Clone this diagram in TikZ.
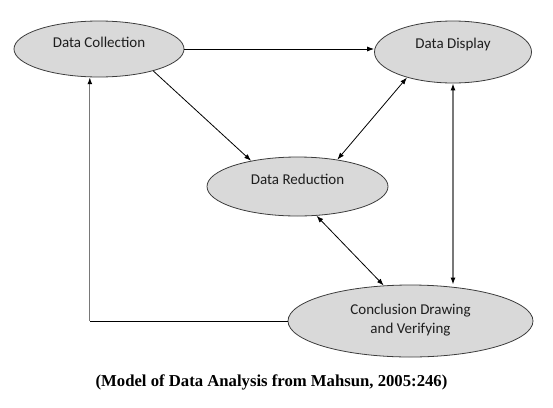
\documentclass[tikz,border=0pt]{standalone}
\usepackage{fontspec}
\setmainfont{Liberation Serif}
\newfontfamily\stagefont{Carlito}
\usetikzlibrary{shapes.geometric, arrows.meta, positioning, calc}
\definecolor{cStageFill}{RGB}{217, 217, 217}
\definecolor{cStageDraw}{RGB}{60, 60, 60}
\definecolor{cLoopLine}{RGB}{120, 120, 120}
\definecolor{cTextColor}{RGB}{30, 30, 30}
\tikzset{
    % ellipse for each analysis stage
    stage/.style={
        ellipse, draw=cStageDraw, fill=cStageFill, line width=0.8pt, inner sep=0pt
    },
    stageText/.style={font=\stagefont\fontsize{15}{19}\selectfont, text=cTextColor, align=center},
    % connectors
    plain/.style={draw=black, line width=0.8pt},
    conn/.style={plain, -{Latex[length=7pt, width=5pt]}},
    biconn/.style={plain, {Latex[length=7pt, width=5pt]}-{Latex[length=7pt, width=5pt]}},
    loopconn/.style={draw=cLoopLine, line width=1.3pt, -{Latex[length=7pt, width=5pt, color=black]}},
    loopbiconn/.style={draw=cLoopLine, line width=1.3pt,
        {Latex[length=7pt, width=5pt, color=black]}-{Latex[length=7pt, width=5pt, color=black]}},
    captionText/.style={font=\bfseries\fontsize{16.7}{20}\selectfont}
}

\begin{document}
\begin{tikzpicture}[x=1pt, y=-1pt]

	\useasboundingbox (0,0) rectangle (553,407);

	% ==========================================
	% stages
	% ==========================================
	\node [stage, minimum width=170pt, minimum height=56pt] (coll) at (99,49) {};
	\node [stageText] (collText) at ($(coll.center)+(0,-7)$) {Data Collection};

	\node [stage, minimum width=157pt, minimum height=62pt] (disp) at (453,52) {};
	\node [stageText] (dispText) at ($(disp.center)+(0,-8)$) {Data Display};

	\node [stage, minimum width=181pt, minimum height=59pt] (red) at (297.5,186.5) {};
	\node [stageText] (redText) at ($(red.center)+(0,-7)$) {Data Reduction};

	\node [stage, minimum width=245pt, minimum height=72pt] (conc) at (410.5,321) {};
	\node [stageText] (concText) at ($(conc.center)+(0,-1)$) {Conclusion Drawing\\and Verifying};

	% ==========================================
	% caption
	% ==========================================
	\node [captionText] (caption) at (271.5,382) {(Model of Data Analysis from Mahsun, 2005:246)};

	% ==========================================
	% connectors
	% ==========================================
	\draw [conn] (coll.east) -- (disp.west |- coll.east);
	\draw [conn] (coll.-22) -- (red.151);
	\draw [biconn] (disp.209) -- (red.34);
	\draw [biconn] (red.303) -- (conc.127);
	\draw [loopbiconn] (disp.south) -- (disp.south |- conc.north);

	% feedback loop back to data collection
	\coordinate (loopCorner) at (coll.252 |- conc.west);
	\draw [plain] (conc.west) -- (loopCorner);
	\draw [loopconn] (loopCorner) -- (coll.252);

\end{tikzpicture}
\end{document}
